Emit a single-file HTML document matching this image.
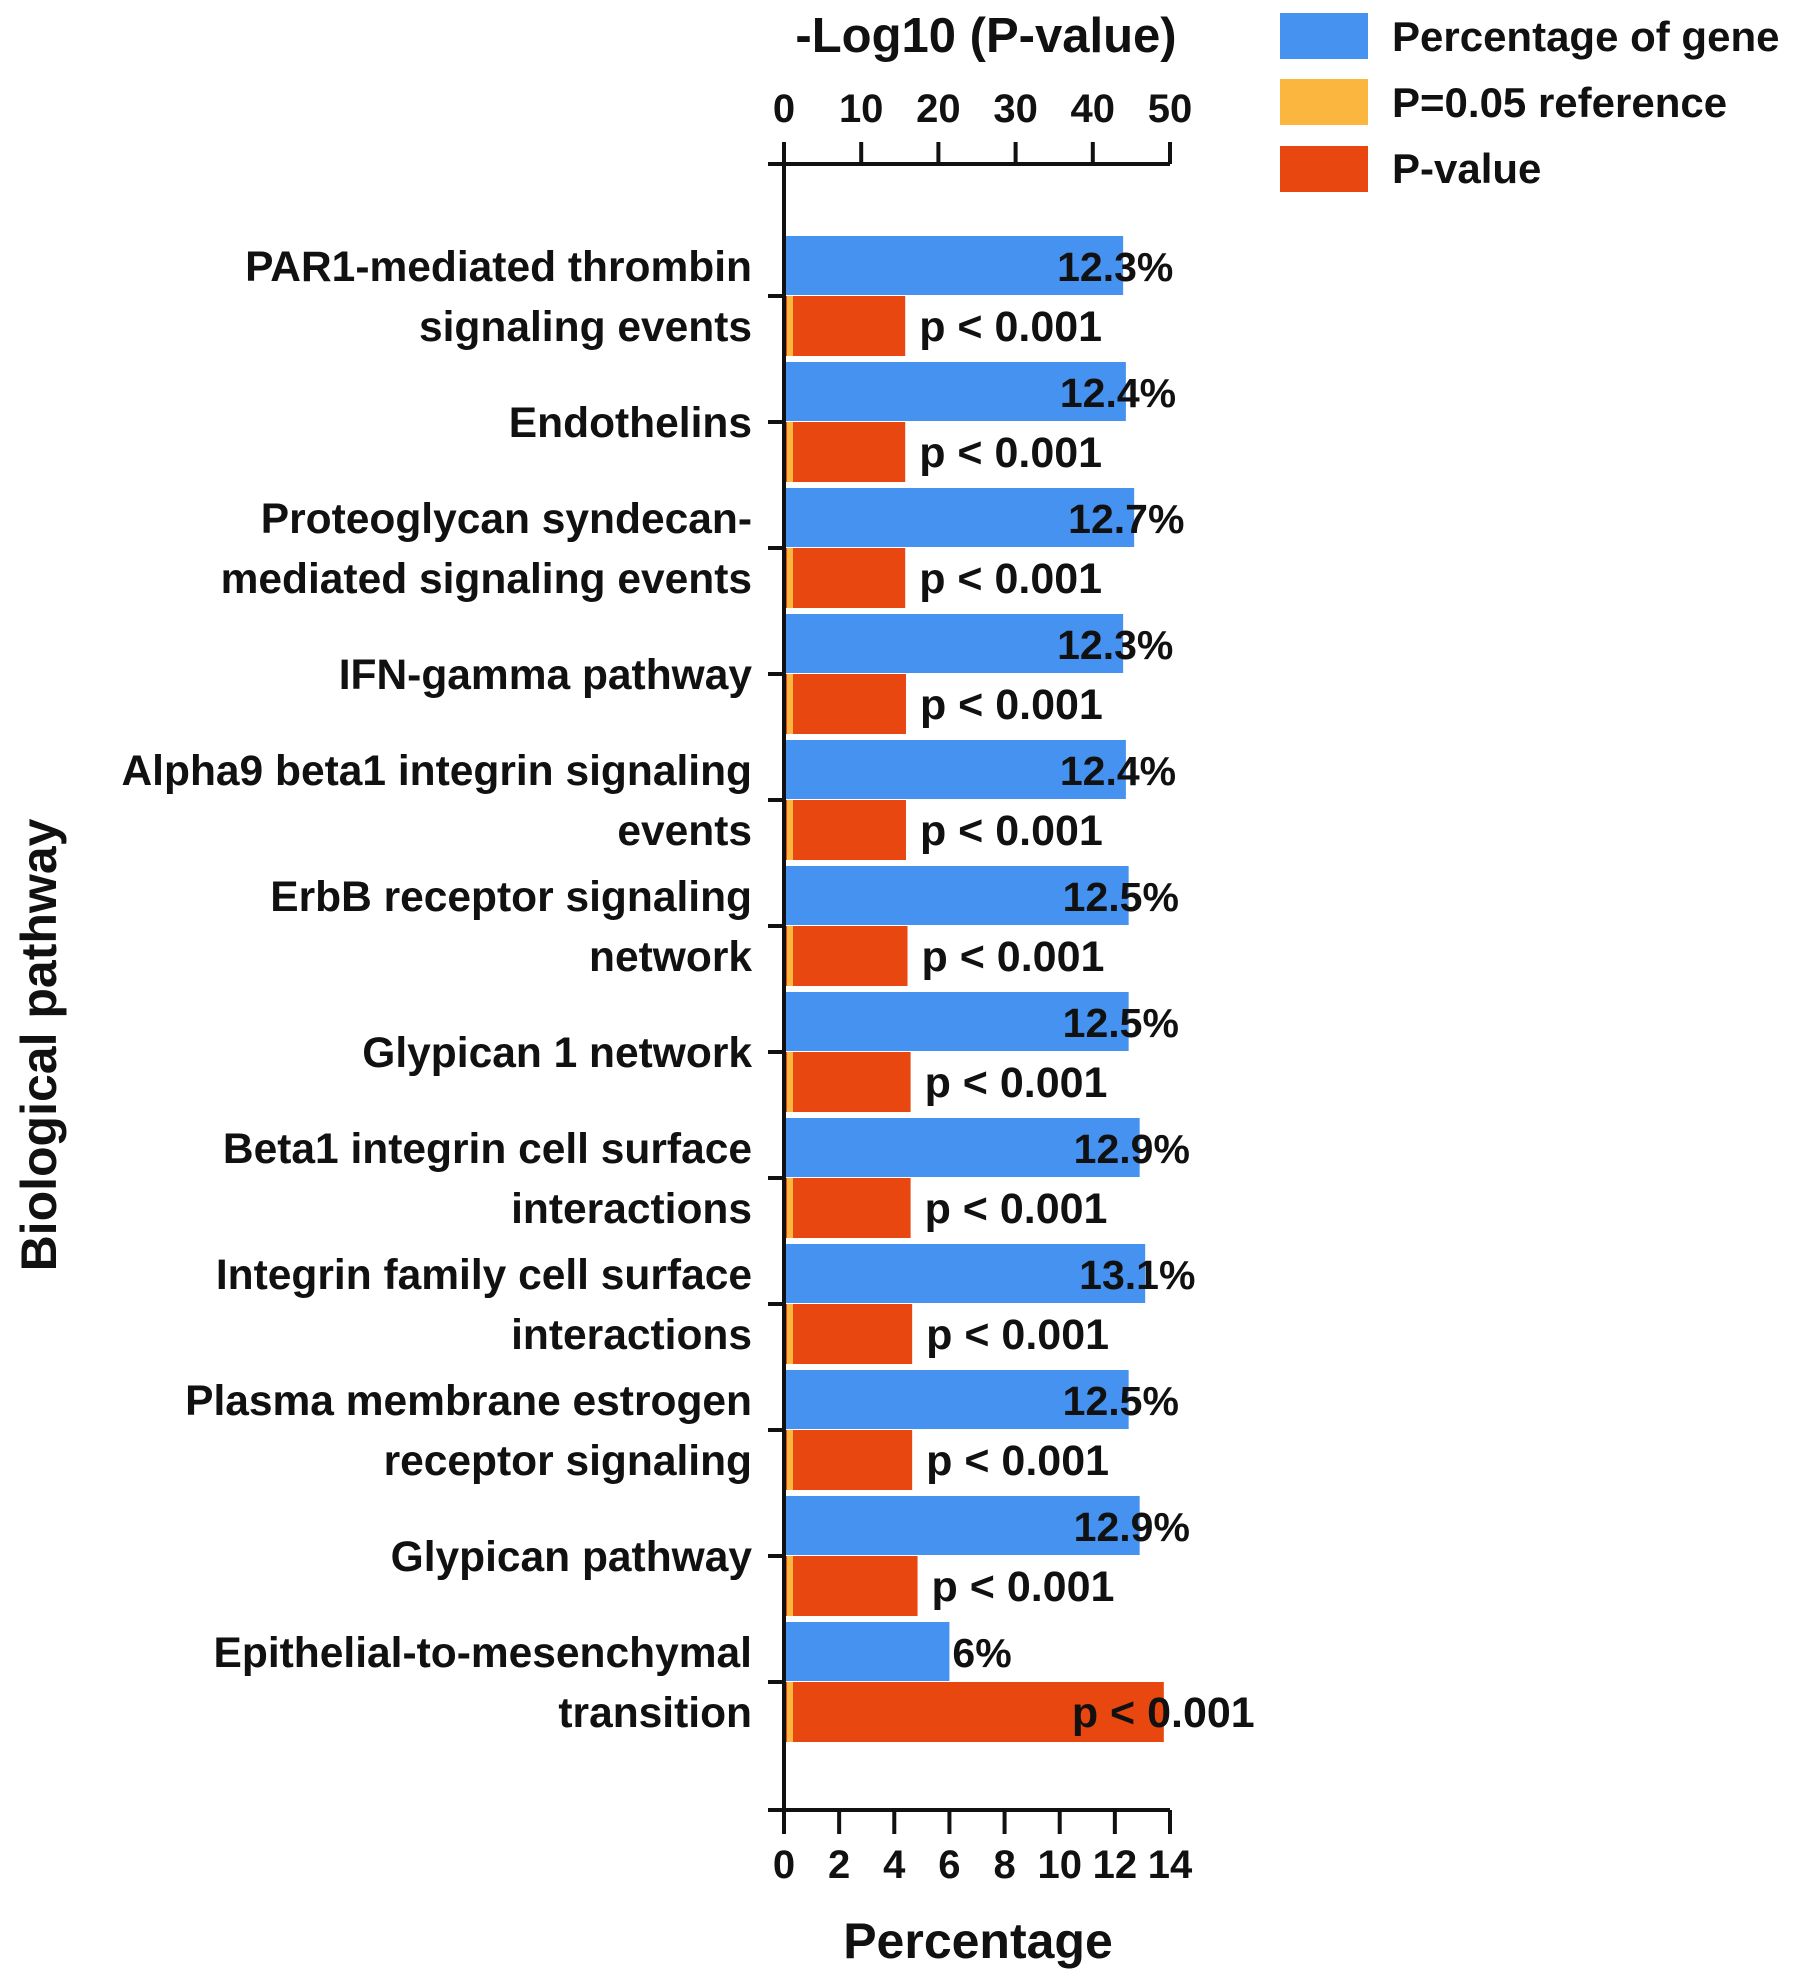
<!DOCTYPE html>
<html><head><meta charset="utf-8"><style>
html,body{margin:0;padding:0;background:#fff;}
svg{display:block;}
text{font-family:"Liberation Sans",sans-serif;font-weight:bold;fill:#111;}
</style></head><body>
<svg id="chart" width="1795" height="1982" viewBox="0 0 1795 1982" xmlns="http://www.w3.org/2000/svg">
<g id="bars"></g>
<g id="axes"></g>
<g id="labels"></g>
<g>
  <rect x="1280" y="13" width="88" height="46" fill="#4592f0"/>
  <text x="1392" y="51" font-size="42">Percentage of gene</text>
  <rect x="1280" y="79" width="88" height="46" fill="#fbb640"/>
  <text x="1392" y="117" font-size="42">P=0.05 reference</text>
  <rect x="1280" y="146" width="88" height="46" fill="#e8470f"/>
  <text x="1392" y="183" font-size="42">P-value</text>
</g>
<text x="986" y="52" font-size="49" text-anchor="middle">-Log10 (P-value)</text>
<text x="978" y="1958" font-size="50" text-anchor="middle">Percentage</text>
<text x="0" y="0" font-size="50" text-anchor="middle" transform="translate(56,1045) rotate(-90)">Biological pathway</text>
</svg>
<script>
const categories = [
  ["PAR1-mediated thrombin","signaling events"],
  ["Endothelins"],
  ["Proteoglycan syndecan-","mediated signaling events"],
  ["IFN-gamma pathway"],
  ["Alpha9 beta1 integrin signaling","events"],
  ["ErbB receptor signaling","network"],
  ["Glypican 1 network"],
  ["Beta1 integrin cell surface","interactions"],
  ["Integrin family cell surface","interactions"],
  ["Plasma membrane estrogen","receptor signaling"],
  ["Glypican pathway"],
  ["Epithelial-to-mesenchymal","transition"]
];
const percentValues = [12.3,12.4,12.7,12.3,12.4,12.5,12.5,12.9,13.1,12.5,12.9,6];
const percentLabels = ["12.3%","12.4%","12.7%","12.3%","12.4%","12.5%","12.5%","12.9%","13.1%","12.5%","12.9%","6%"];
const logPValues = [15.7,15.7,15.7,15.8,15.8,16.0,16.4,16.4,16.6,16.6,17.3,49.2];
const pLabels = ["p < 0.001","p < 0.001","p < 0.001","p < 0.001","p < 0.001","p < 0.001","p < 0.001","p < 0.001","p < 0.001","p < 0.001","p < 0.001","p < 0.001"];
const referenceValue = 1.3;
const bottomTicks = [0,2,4,6,8,10,12,14];
const topTicks = [0,10,20,30,40,50];

const NS = "http://www.w3.org/2000/svg";
const X0 = 784, X1 = 1170, TOPY = 164, BOTY = 1810;
const Y0 = 236, STEP = 126, BH = 60;
const xPct = v => X0 + (v/14)*(X1-X0);
const xLog = v => X0 + (v/50)*(X1-X0);
function mk(tag, attrs, parent){const e=document.createElementNS(NS,tag);for(const k in attrs)e.setAttribute(k,attrs[k]);parent.appendChild(e);return e;}
const gB=document.getElementById('bars'), gA=document.getElementById('axes'), gL=document.getElementById('labels');

categories.forEach((cat,i)=>{
  const yb = Y0 + i*STEP, yr = yb + BH;
  const b = mk('rect',{x:X0+2,y:yb,width:xPct(percentValues[i])-X0-2,height:BH-1,fill:'#4592f0'},gB);
  
  
  const r = mk('rect',{x:X0+2,y:yr,width:xLog(logPValues[i])-X0-2,height:BH,fill:'#e8470f'},gB);
  
  
  const o = mk('rect',{x:X0+3,y:yr,width:(xLog(referenceValue)-X0)*0.6,height:BH,fill:'#fbb640'},gB);
  
  
  const be = xPct(percentValues[i]);
  const pt = mk('text',{x: percentValues[i]>10 ? be-66 : be+3, y: yb+BH/2+15,'font-size':41},gL);
  pt.textContent = percentLabels[i];
  
  
  const re = xLog(logPValues[i]);
  const ptx = mk('text',{x: re>1050 ? re-92 : re+14, y: yr+BH/2+15,'font-size':43},gL);
  ptx.textContent = pLabels[i];
  
  
  const tk = mk('line',{x1:X0-16,x2:X0,y1:yr,y2:yr,stroke:'#111','stroke-width':4},gA);
  
  
  const lines = cat.length===2 ? [[cat[0],yb+BH/2+15],[cat[1],yr+BH/2+15]] : [[cat[0],yr+15]];
  lines.forEach(([t,y])=>{
    const c = mk('text',{x:752,y:y,'font-size':42.5,'text-anchor':'end'},gL);
    c.textContent = t;
    
    
  });
});
let ax = mk('line',{x1:X0,x2:X0,y1:TOPY-6,y2:BOTY+24,stroke:'#111','stroke-width':4},gA);


ax = mk('line',{x1:X0-16,x2:X1,y1:TOPY,y2:TOPY,stroke:'#111','stroke-width':4},gA);


ax = mk('line',{x1:X0-16,x2:X1,y1:BOTY,y2:BOTY,stroke:'#111','stroke-width':4},gA);


bottomTicks.forEach(v=>{
  const x=xPct(v);
  const l=mk('line',{x1:x,x2:x,y1:BOTY,y2:BOTY+24,stroke:'#111','stroke-width':4},gA);
  
  
  const t=mk('text',{x:x,y:1878,'font-size':40,'text-anchor':'middle'},gA);
  t.textContent=v;
  
  
});
topTicks.forEach(v=>{
  const x=xLog(v);
  const l=mk('line',{x1:x,x2:x,y1:TOPY-22,y2:TOPY,stroke:'#111','stroke-width':4},gA);
  
  
  const t=mk('text',{x:x,y:122,'font-size':40,'text-anchor':'middle'},gA);
  t.textContent=v;
  
  
});
</script>
</body></html>
